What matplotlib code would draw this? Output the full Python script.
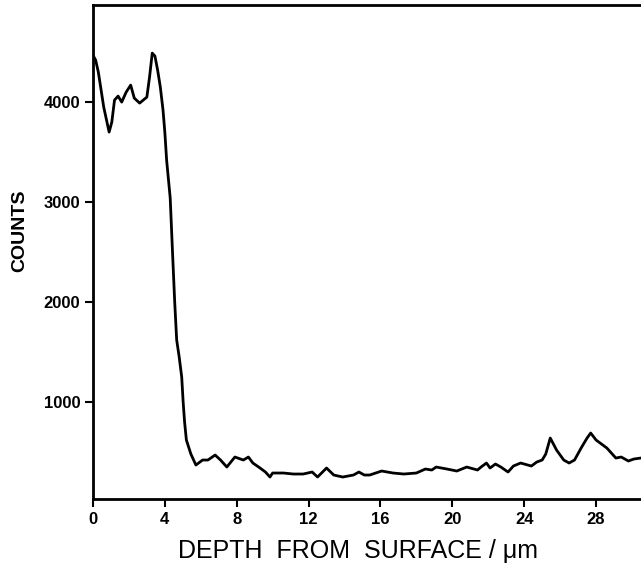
import matplotlib
matplotlib.use("Agg")
import matplotlib.pyplot as plt
import numpy as np

# depth profile (depth in um, counts)
depth = [0.0, 0.15, 0.3, 0.6, 0.9, 1.05, 1.2, 1.4, 1.6, 1.85, 2.1, 2.3, 2.6, 3.0,
         3.15, 3.3, 3.45, 3.6, 3.75, 3.9, 4.0, 4.1, 4.2, 4.3, 4.44, 4.55, 4.66,
         4.8, 4.94, 5.02, 5.1, 5.2, 5.45, 5.73, 6.1, 6.4, 6.8, 7.1, 7.45, 7.9,
         8.37, 8.65, 8.9, 9.3, 9.6, 9.85, 10.0, 10.6, 11.15, 11.7, 12.2, 12.5,
         13.0, 13.4, 13.9, 14.5, 14.8, 15.1, 15.4, 16.07, 16.7, 17.3, 18.0, 18.5,
         18.86, 19.1, 19.7, 20.25, 20.8, 21.4, 21.6, 21.9, 22.1, 22.4, 22.7, 23.1,
         23.4, 23.8, 24.4, 24.7, 25.0, 25.2, 25.45, 25.8, 26.2, 26.5, 26.8, 27.2,
         27.5, 27.7, 28.0, 28.6, 29.1, 29.4, 29.8, 30.1, 30.5]
counts = [4470, 4420, 4300, 3950, 3700, 3800, 4020, 4060, 4000, 4100, 4170, 4040,
          3990, 4050, 4250, 4490, 4460, 4320, 4150, 3920, 3700, 3420, 3230, 3040,
          2450, 2000, 1620, 1450, 1250, 1000, 800, 620, 480, 370, 420, 420, 470,
          420, 350, 450, 420, 450, 390, 340, 300, 250, 290, 290, 280, 280, 300,
          250, 340, 270, 250, 270, 300, 270, 270, 310, 290, 280, 290, 330, 320,
          350, 330, 310, 350, 320, 350, 390, 340, 380, 350, 300, 360, 390, 360,
          400, 420, 480, 640, 520, 420, 390, 420, 550, 640, 690, 620, 540, 440,
          450, 410, 430, 440]

x_ticks = [0, 4, 8, 12, 16, 20, 24, 28]
y_ticks = [1000, 2000, 3000, 4000]

fig = plt.figure(figsize=(6.41, 5.69), dpi=100)
ax = fig.add_axes([0.145, 0.123, 0.855, 0.868])

ax.plot(depth, counts, color='black', linewidth=2.0, solid_joinstyle='round')

ax.set_xlim(0, 30.5)
ax.set_ylim(30, 4970)
ax.set_xticks(x_ticks)
ax.set_yticks(y_ticks)
ax.spines['right'].set_visible(False)
for s in ['left', 'bottom', 'top']:
    ax.spines[s].set_linewidth(2.0)

ax.tick_params(direction='out', length=6, width=1.5, pad=3)
for lab in ax.get_xticklabels() + ax.get_yticklabels():
    lab.set_family('Liberation Sans')
    lab.set_fontweight('bold')
    lab.set_fontsize(12)

ax.set_xlabel('DEPTH  FROM  SURFACE / \u03bcm', family='Liberation Sans',
              fontsize=18, labelpad=9)
ax.xaxis.label.set_x(0.483)
ax.set_ylabel('COUNTS', family='Liberation Sans', fontsize=14, fontweight='bold')
ax.yaxis.set_label_coords(-0.118, 0.543)

fig.savefig('out.png', dpi=100)
